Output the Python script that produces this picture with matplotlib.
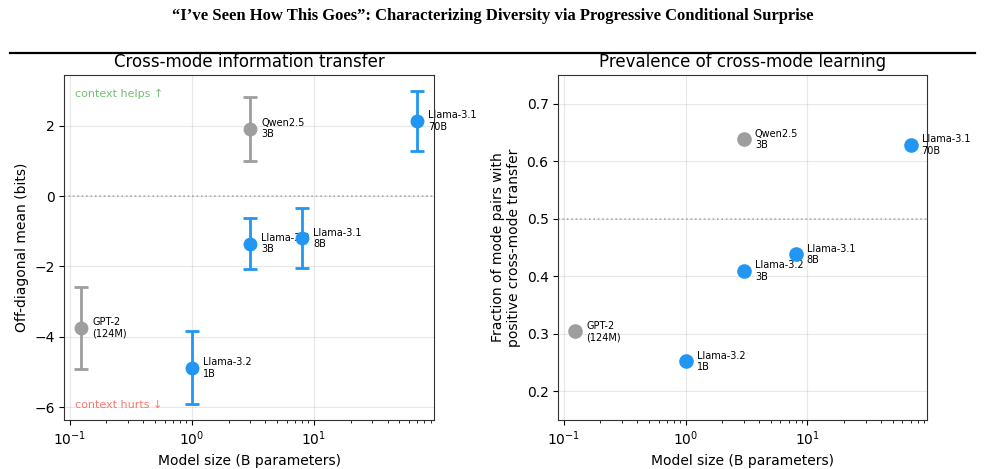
import matplotlib.pyplot as plt
import numpy as np

# model sizes in billions of parameters
labels = ['GPT-2\n(124M)', 'Llama-3.2\n1B', 'Qwen2.5\n3B', 'Llama-3.2\n3B', 'Llama-3.1\n8B', 'Llama-3.1\n70B']
sizes = [0.124, 1.0, 3.0, 3.0, 8.0, 70.0]
is_llama = [False, True, False, True, True, True]

offdiag_mean = [-3.75, -4.88, 1.92, -1.35, -1.20, 2.14]
offdiag_err = [1.18, 1.04, 0.91, 0.73, 0.85, 0.86]

frac_positive = [0.304, 0.252, 0.638, 0.409, 0.438, 0.628]

BLUE = '#2196F3'
GRAY = '#9E9E9E'

fig = plt.figure(figsize=(9.85, 4.69), dpi=100)

fig.text(0.5, 0.966, '\u201cI\u2019ve Seen How This Goes\u201d: Characterizing Diversity via Progressive Conditional Surprise',
         ha='center', va='center', family='Liberation Serif', weight='bold', fontsize=12)
fig.add_artist(plt.Line2D([0.01, 0.99], [0.887, 0.887], color='black', lw=1.6))

ax1 = fig.add_axes([0.0653, 0.1045, 0.3753, 0.7356])
ax2 = fig.add_axes([0.5668, 0.1045, 0.3746, 0.7356])

for x, y, e, lab, ll in zip(sizes, offdiag_mean, offdiag_err, labels, is_llama):
    c = BLUE if ll else GRAY
    ax1.errorbar(x, y, yerr=e, fmt='o', color=c, ms=9, capsize=5, capthick=2,
                 elinewidth=2, zorder=3)
    ax1.annotate(lab, (x, y), xytext=(8, 0), textcoords='offset points',
                 fontsize=7, va='center', zorder=2)
ax1.axhline(0, color='gray', ls=':', lw=1.2, alpha=0.6)
ax1.set_xscale('log')
ax1.set_xlabel('Model size (B parameters)', fontsize=10)
ax1.set_ylabel('Off-diagonal mean (bits)', fontsize=10)
ax1.set_title('Cross-mode information transfer', fontsize=12)
ax1.grid(True, alpha=0.3)
ax1.text(0.03, 0.96, 'context helps \u2191', transform=ax1.transAxes, color='#4CAF50',
         alpha=0.8, fontsize=8, va='top')
ax1.text(0.03, 0.03, 'context hurts \u2193', transform=ax1.transAxes, color='#F44336',
         alpha=0.7, fontsize=8, va='bottom')

for x, y, lab, ll in zip(sizes, frac_positive, labels, is_llama):
    c = BLUE if ll else GRAY
    ax2.scatter(x, y, s=90, color=c, zorder=3)
    ax2.annotate(lab, (x, y), xytext=(8, 0), textcoords='offset points',
                 fontsize=7, va='center')
ax2.axhline(0.5, color='gray', ls=':', lw=1.2, alpha=0.6)
ax2.set_xscale('log')
ax2.set_ylim(0.15, 0.75)
ax2.set_xlabel('Model size (B parameters)', fontsize=10)
ax2.set_ylabel('Fraction of mode pairs with\npositive cross-mode transfer', fontsize=10)
ax2.set_title('Prevalence of cross-mode learning', fontsize=12)
ax2.grid(True, alpha=0.3)

for ax in (ax1, ax2):
    ax.tick_params(labelsize=10)
    for s in ax.spines.values():
        s.set_color('#333333')

fig.savefig('out.png', dpi=100)
